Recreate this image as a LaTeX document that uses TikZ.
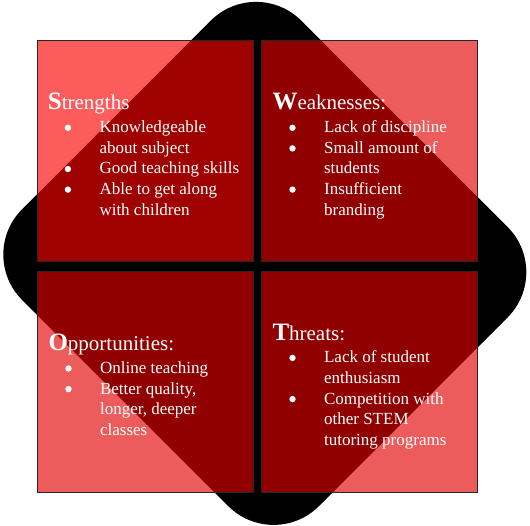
\documentclass[tikz,border=0pt]{standalone}
\usepackage{fontspec}
\setmainfont{Liberation Serif}

\definecolor{sred}{RGB}{250,0,0}
\definecolor{qred}{RGB}{227,0,0}

% heading: large bold initial followed by the rest of the word
\newcommand\swothead[2]{{\fontsize{25}{25}\selectfont\bfseries #1}{\fontsize{21}{21}\selectfont #2}}
% bulleted line and continuation line (the bullet is a small white disc)
\newcommand\bigdot{\raisebox{1.7pt}{\tikz\fill[white] (0,0) circle[radius=3.2pt];}}
\newcommand\bitem{\hspace*{16.8pt}\makebox[34.8pt][l]{\bigdot}}
\newcommand\cont{\hspace*{51.6pt}}

\tikzset{
  quad/.style={draw=black!85, line width=0.75pt, fill opacity=0.64, draw opacity=1,
    minimum width=215.5pt, minimum height=221pt, inner sep=0pt},
  swot/.style={text=white, inner sep=0pt, anchor=base west,
    font=\fontsize{17}{20.6}\selectfont}
}

\begin{document}
\begin{tikzpicture}[x=1pt, y=-1pt]
\useasboundingbox (0,0) rectangle (530,525);

% rounded diamond behind the grid
\fill[black, rounded corners=64pt]
  (116.4,115) -- (256,-24.6) -- (552.8,272.2) -- (273.6,551.4) -- (-23.2,254.6) -- cycle;

% the four quadrants
\node[quad, fill=sred] (S) at (145.4,151.2) {};
\node[quad, fill=qred] (W) at (369.35,151.2) {};
\node[quad, fill=qred] (O) at (145.4,382.1) {};
\node[quad, fill=qred] (T) at (369.35,382.1) {};

% quadrant texts
\node[swot] (Stext) at (47.7,109.3) {\begin{tabular}[t]{@{}l@{}}
\swothead{S}{trengths}\\[2.8pt]
\bitem Knowledgeable\\
\cont about subject\\
\bitem Good teaching skills\\
\bitem Able to get along\\
\cont with children
\end{tabular}};

\node[swot] (Wtext) at (272.3,109.3) {\begin{tabular}[t]{@{}l@{}}
\swothead{W}{eaknesses:}\\[2.8pt]
\bitem Lack of discipline\\
\bitem Small amount of\\
\cont students\\
\bitem Insufficient\\
\cont branding
\end{tabular}};

\node[swot] (Otext) at (48.3,350) {\begin{tabular}[t]{@{}l@{}}
\swothead{O}{pportunities:}\\[2.8pt]
\bitem Online teaching\\
\bitem Better quality,\\
\cont longer, deeper\\
\cont classes
\end{tabular}};

\node[swot] (Ttext) at (272.3,340) {\begin{tabular}[t]{@{}l@{}}
\swothead{T}{hreats:}\\[2.2pt]
\bitem Lack of student\\
\cont enthusiasm\\
\bitem Competition with\\
\cont other STEM\\
\cont tutoring programs
\end{tabular}};
\end{tikzpicture}
\end{document}
